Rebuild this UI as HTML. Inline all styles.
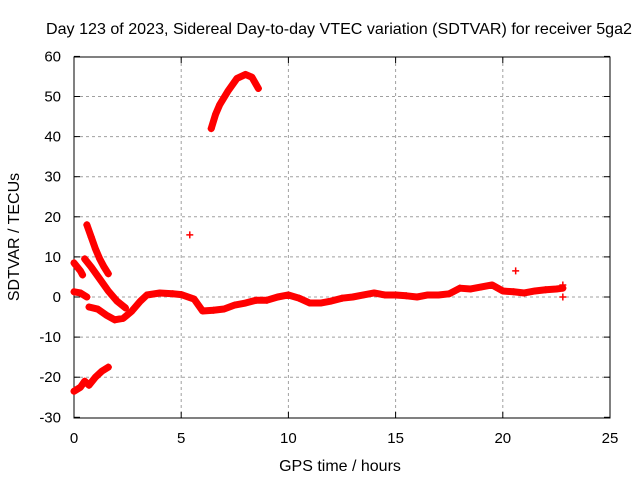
<!DOCTYPE html>
<html><head><meta charset="utf-8"><style>
body{margin:0;background:#fff}
svg text{font-family:"Liberation Sans",sans-serif;font-size:15px;fill:#000}
svg text.ttl{font-size:16px}
</style></head><body>
<svg width="640" height="480">
<rect width="640" height="480" fill="#fff"/>
<g id="grid"></g>
<g id="axes"></g>
<g id="series"></g>
<text class="ttl" x="339" y="34" text-anchor="middle" textLength="586" lengthAdjust="spacingAndGlyphs">Day 123 of 2023, Sidereal Day-to-day VTEC variation (SDTVAR) for receiver 5ga2</text>
<text class="ttl" x="340" y="471" text-anchor="middle">GPS time / hours</text>
<text class="ttl" transform="translate(19,237) rotate(-90)" text-anchor="middle">SDTVAR / TECUs</text>
</svg>
<script>
const xTicks=[0,5,10,15,20,25];
const yTicks=[-30,-20,-10,0,10,20,30,40,50,60];
const trackA=[[0.6,18],[0.8,15],[1.0,12],[1.2,9.5],[1.4,7.5],[1.6,5.8]];
const trackB=[[0.5,9.5],[0.8,7.5],[1.2,4.5],[1.6,1.5],[2.0,-1],[2.4,-2.7]];
const trackC=[[0,8.5],[0.15,7.5],[0.3,6.5],[0.4,5.5]];
const trackD=[[0,1.3],[0.3,1],[0.6,0]];
const trackE=[[0.7,-2.5],[1.1,-3],[1.5,-4.5],[1.9,-5.7],[2.3,-5.3],[2.7,-3.5],[3.1,-1],[3.4,0.5],[4,1],[4.6,0.8],[5.0,0.6],[5.6,-0.5],[6,-3.5],[6.5,-3.3],[7,-3],[7.5,-2],[8,-1.5],[8.5,-0.8],[9,-0.8],[9.5,0],[10,0.5],[10.5,-0.3],[11,-1.5],[11.5,-1.5],[12,-1],[12.5,-0.3],[13,0],[13.5,0.5],[14,1],[14.5,0.5],[15,0.5],[15.5,0.3],[16,0],[16.5,0.5],[17,0.5],[17.5,0.8],[18,2.2],[18.5,2],[19,2.5],[19.5,3],[20,1.5],[20.5,1.3],[21,1],[21.5,1.5],[22,1.8],[22.5,2],[22.8,2.2]];
const trackF=[[0,-23.5],[0.3,-22.5],[0.5,-21],[0.7,-22],[1.0,-20],[1.3,-18.5],[1.6,-17.5]];
const trackG=[[6.4,42],[6.6,45.5],[6.8,48],[7.2,51.5],[7.6,54.5],[8,55.5],[8.3,54.8],[8.6,52]];
const singles=[[5.4,15.5],[20.6,6.5],[22.8,3],[22.8,0]];
const X=t=>74+t*21.44, Y=v=>297-v*4.01;
const NS="http://www.w3.org/2000/svg";
function mk(tag,attrs,parent){const e=document.createElementNS(NS,tag);for(const k in attrs)e.setAttribute(k,attrs[k]);parent.appendChild(e);return e;}
const grid=document.getElementById('grid'),axes=document.getElementById('axes'),ser=document.getElementById('series');
mk('rect',{x:74,y:57,width:536,height:361,fill:'none',stroke:'#000'},axes);
xTicks.forEach(t=>{const x=X(t);
 if(t>0&&t<25){const l=mk('line',{x1:x,x2:x,y1:57,y2:418,stroke:'#a0a0a0','stroke-dasharray':'3,3'},grid);}
 mk('line',{x1:x,x2:x,y1:418,y2:412,stroke:'#000'},axes);mk('line',{x1:x,x2:x,y1:57,y2:63,stroke:'#000'},axes);
 const tx=mk('text',{x:x,y:443,'text-anchor':'middle'},axes);tx.textContent=t;
 });
yTicks.forEach(v=>{const y=Y(v);
 if(v>-30&&v<60){const l=mk('line',{x1:74,x2:610,y1:y,y2:y,stroke:'#a0a0a0','stroke-dasharray':'3,3'},grid);}
 mk('line',{x1:74,x2:80,y1:y,y2:y,stroke:'#000'},axes);mk('line',{x1:610,x2:604,y1:y,y2:y,stroke:'#000'},axes);
 const tx=mk('text',{x:61,y:y+5,'text-anchor':'end'},axes);tx.textContent=v;
 });
function plus(t,v){const x=X(t),y=Y(v);const p=mk('path',{d:`M${x-3.5},${y}h7M${x},${y-3.5}v7`,stroke:'#f00','stroke-width':1.5},ser);
 }
[trackA,trackB,trackC,trackD,trackE,trackF,trackG].forEach(tr=>{
 const pl=mk('polyline',{points:tr.map(p=>X(p[0])+','+Y(p[1])).join(' '),fill:'none',stroke:'#f00','stroke-width':7,'stroke-linejoin':'round','stroke-linecap':'round'},ser);
 
 tr.forEach(p=>plus(p[0],p[1]));});
singles.forEach(p=>plus(p[0],p[1]));
</script>
</body></html>
